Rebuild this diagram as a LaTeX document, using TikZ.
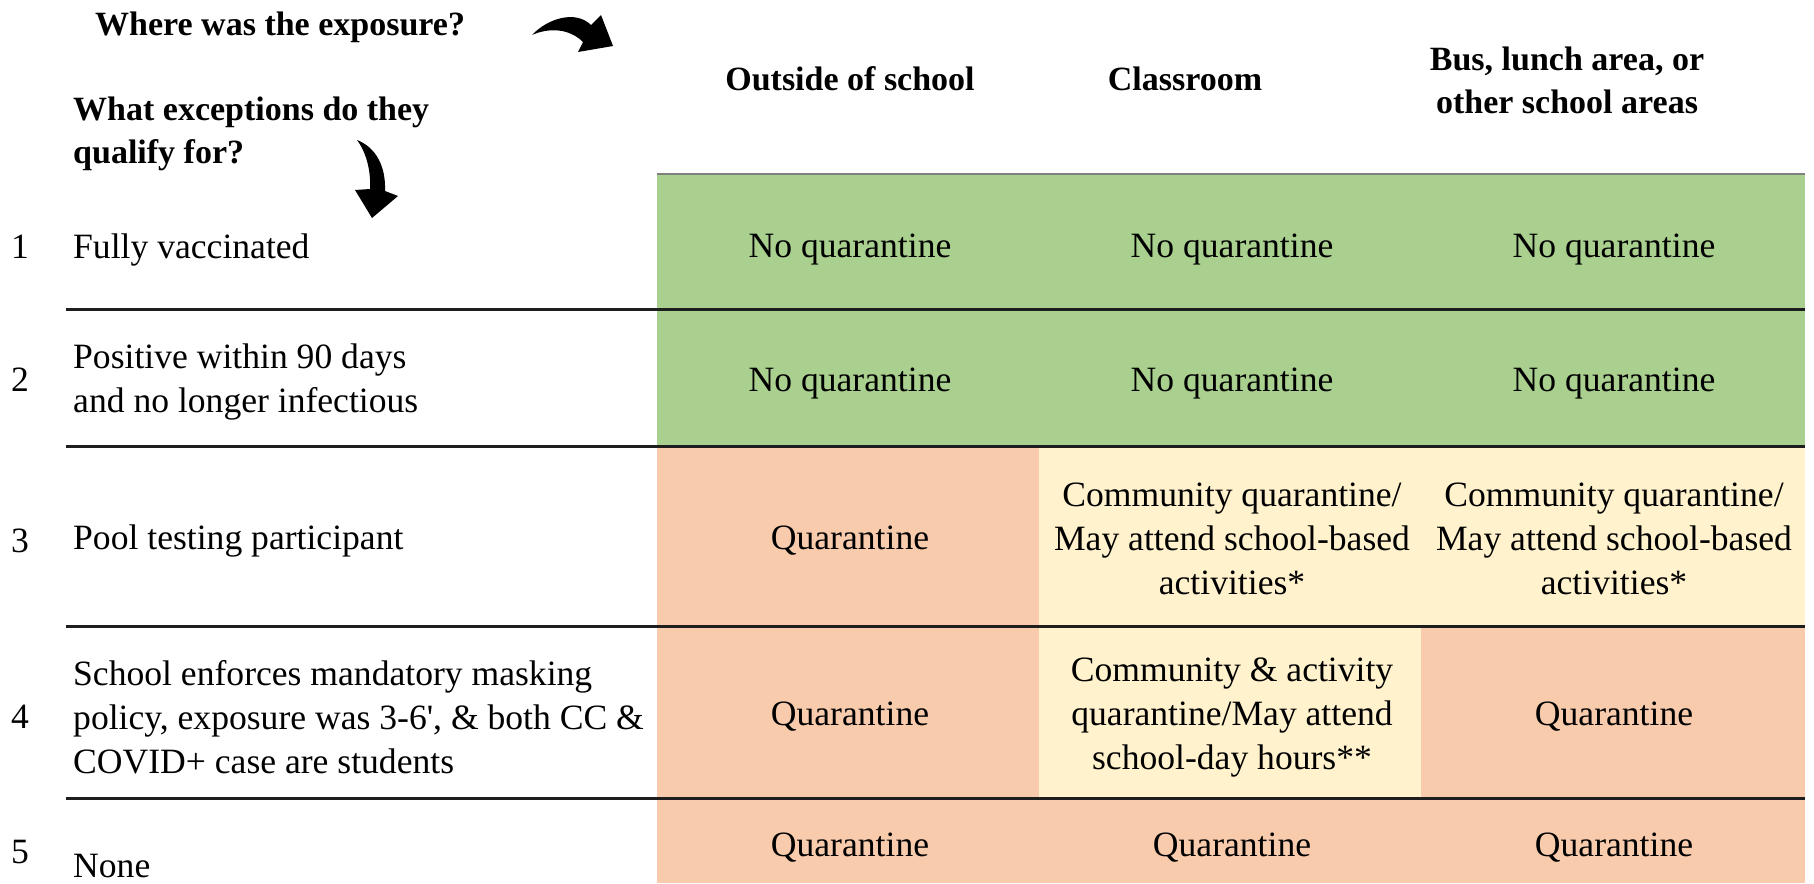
\documentclass[tikz,border=0pt]{standalone}
\usepackage{fontspec}
\setmainfont{Liberation Serif}
\definecolor{cgreen}{HTML}{A9D08E}
\definecolor{corange}{HTML}{F8CBAD}
\definecolor{cyellow}{HTML}{FFF2CC}
\definecolor{rulecol}{HTML}{1E1E1E}
\newcommand\bodyfont{\fontsize{35.6}{44}\selectfont}
\newcommand\headfont{\fontsize{34}{43}\selectfont\bfseries}
\tikzset{
  cell/.style={font=\bodyfont, align=center, inner sep=0pt},
  lbl/.style={font=\bodyfont, align=left, anchor=west, inner sep=0pt},
  num/.style={font=\bodyfont, inner sep=0pt},
  hdr/.style={font=\headfont, align=center, inner sep=0pt},
  tablerule/.style={draw=rulecol, line width=3pt},
  bigarrow/.style={fill=black},
}
\begin{document}
\begin{tikzpicture}[x=1pt,y=-1pt]
\useasboundingbox (0,0) rectangle (1814,883);
% cell backgrounds
\fill[cgreen] (657,174) rectangle (1805,446);
\fill[corange] (657,446) rectangle (1805,883);
\fill[cyellow] (1039,446) rectangle (1805,626);
\fill[cyellow] (1039,626) rectangle (1421,798);
\draw[gray, line width=1.5pt] (657,174) -- (1805,174);
% rules
\draw[tablerule] (66,309) -- (1805,309);
\draw[tablerule] (66,446) -- (1805,446);
\draw[tablerule] (66,626) -- (1805,626);
\draw[tablerule] (66,798) -- (1805,798);
% curved arrows
\fill[bigarrow] (532,35) .. controls (548,18) and (576,10) .. (591,25) -- (601,15) -- (613,46) -- (578,52) -- (583,42) .. controls (570,29) and (550,27) .. (532,35) -- cycle;
\fill[bigarrow] (357,140) .. controls (375,147) and (386,165) .. (385,191) -- (398,196) -- (372,218) -- (355,190) -- (370,189) .. controls (371,170) and (366,152) .. (357,140) -- cycle;
% headers
\node[hdr, anchor=west] (qwhere) at (95,27) {Where was the exposure?};
\node[hdr, anchor=west, align=left] (qwhat) at (73,134) {What exceptions do they\\qualify for?};
\node[hdr] (hc1) at (850,79) {Outside of school};
\node[hdr] (hc2) at (1185,79) {Classroom};
\node[hdr] (hc3) at (1567,80) {Bus, lunch area, or\\other school areas};
% numbers
\node[num] (n1) at (20,247) {1};
\node[num] (n2) at (20,380) {2};
\node[num] (n3) at (20,541) {3};
\node[num] (n4) at (20,717) {4};
\node[num] (n5) at (20,852) {5};
% row labels
\node[lbl] (l1) at (73,250) {Fully vaccinated};
\node[lbl] (l2) at (73,382) {Positive within 90 days\\and no longer infectious};
\node[lbl] (l3) at (73,541) {Pool testing participant};
\node[lbl] (l4) at (73,717) {School enforces mandatory masking\\policy, exposure was 3-6\textquotesingle, \& both CC \&\\COVID+ case are students};
\node[lbl] (l5) at (73,866) {None};
% cells
\node[cell] (a1) at (850,250) {No quarantine};
\node[cell] (b1) at (1232,250) {No quarantine};
\node[cell] (c1) at (1614,250) {No quarantine};
\node[cell] (a2) at (850,383) {No quarantine};
\node[cell] (b2) at (1232,383) {No quarantine};
\node[cell] (c2) at (1614,383) {No quarantine};
\node[cell] (a3) at (850,541) {Quarantine};
\node[cell] (b3) at (1232,539) {Community quarantine/\\May attend school-based\\activities*};
\node[cell] (c3) at (1614,539) {Community quarantine/\\May attend school-based\\activities*};
\node[cell] (a4) at (850,717) {Quarantine};
\node[cell] (b4) at (1232,717) {Community \& activity\\quarantine/May attend\\school-day hours**};
\node[cell] (c4) at (1614,717) {Quarantine};
\node[cell] (a5) at (850,848) {Quarantine};
\node[cell] (b5) at (1232,848) {Quarantine};
\node[cell] (c5) at (1614,848) {Quarantine};
\end{tikzpicture}
\end{document}
